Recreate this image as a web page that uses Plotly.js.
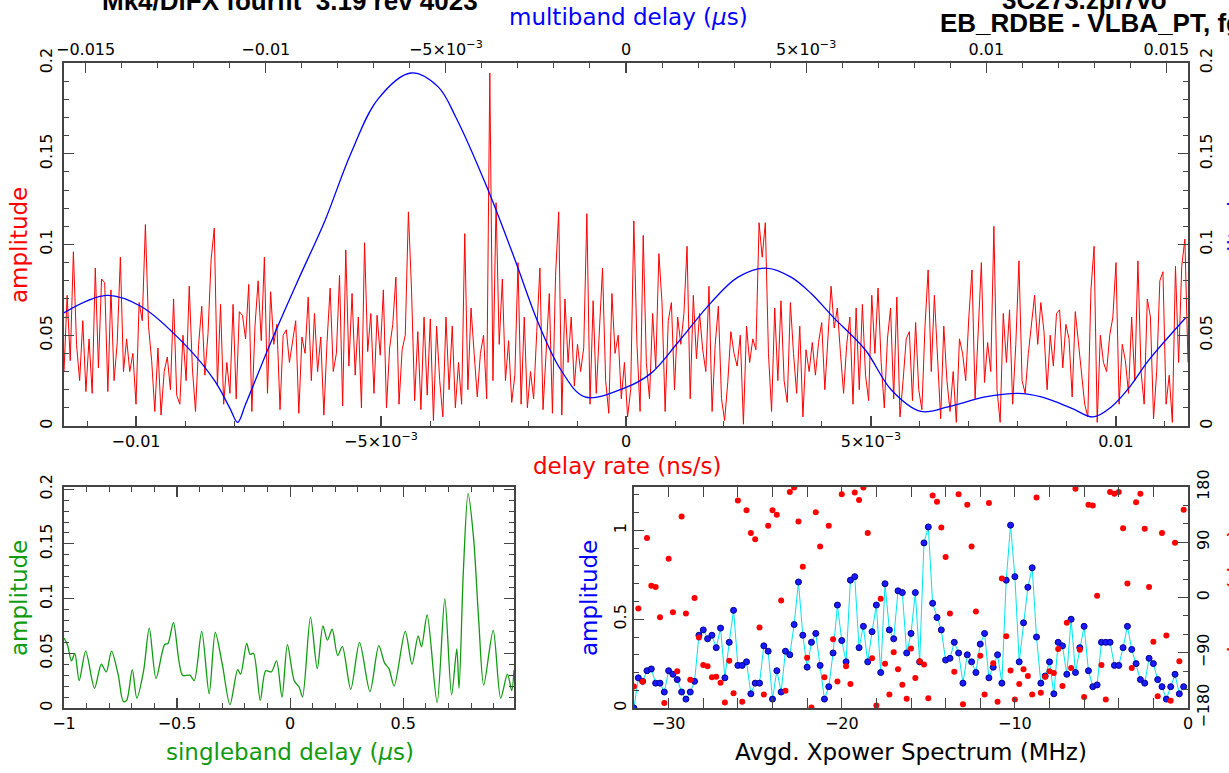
<!DOCTYPE html>
<html><head><meta charset="utf-8">
<script src="https://cdn.plot.ly/plotly-3.0.1.min.js"></script>
<style>html,body{margin:0;padding:0;background:#fff;overflow:hidden}#plot{width:1229px;height:773px}</style>
</head><body><div id="plot"></div>
<script>
// ---- data: delay-rate amplitude (red), evenly spaced in delay rate (ns/s)
const rateStart = -0.01147, rateStep = 0.0000639;
const rateAmp = [
0.030,0.072,0.036,0.096,0.045,0.025,0.058,0.019,0.048,0.018,0.087,0.032,0.081,0.079,0.019,0.075,0.025,0.046,0.093,0.030,
0.048,0.030,0.040,0.012,0.068,0.058,0.111,0.055,0.036,0.008,0.043,0.006,0.030,0.038,0.020,0.070,0.017,0.012,0.050,0.025,
0.077,0.032,0.008,0.045,0.066,0.028,0.051,0.092,0.109,0.022,0.067,0.012,0.035,0.018,0.067,0.015,0.063,0.061,0.048,0.078,
0.008,0.055,0.080,0.047,0.093,0.018,0.074,0.045,0.056,0.009,0.050,0.053,0.035,0.048,0.058,0.007,0.049,0.040,0.071,0.025,
0.062,0.030,0.049,0.006,0.046,0.076,0.030,0.040,0.083,0.011,0.097,0.033,0.073,0.028,0.060,0.010,0.101,0.041,0.062,0.018,
0.061,0.039,0.075,0.010,0.043,0.056,0.082,0.012,0.042,0.050,0.118,0.075,0.014,0.052,0.009,0.060,0.017,0.059,0.003,0.055,
0.025,0.005,0.060,0.020,0.055,0.010,0.035,0.012,0.106,0.020,0.065,0.040,0.016,0.040,0.050,0.015,0.1945,0.025,0.123,0.045,
0.081,0.025,0.047,0.013,0.028,0.090,0.012,0.060,0.010,0.030,0.015,0.052,0.087,0.009,0.044,0.073,0.007,0.083,0.118,0.006,
0.070,0.035,0.060,0.022,0.045,0.030,0.043,0.117,0.012,0.069,0.018,0.050,0.087,0.025,0.007,0.073,0.040,0.050,0.015,0.035,
0.005,0.020,0.113,0.045,0.008,0.105,0.035,0.015,0.062,0.032,0.095,0.068,0.008,0.058,0.068,0.020,0.060,0.045,0.062,0.099,
0.015,0.072,0.037,0.062,0.042,0.030,0.077,0.008,0.045,0.066,0.015,0.003,0.024,0.052,0.040,0.033,0.050,0.001,0.055,0.035,
0.048,0.042,0.112,0.093,0.112,0.040,0.008,0.065,0.025,0.069,0.025,0.013,0.068,0.040,0.018,0.055,0.005,0.042,0.030,0.046,
0.028,0.046,0.057,0.020,0.050,0.077,0.054,0.065,0.040,0.018,0.045,0.060,0.012,0.065,0.020,0.067,0.028,0.014,0.072,0.040,
0.076,0.035,0.010,0.048,0.065,0.015,0.071,0.005,0.025,0.048,0.052,0.014,0.057,0.020,0.009,0.055,0.086,0.030,0.072,0.040,
0.004,0.055,0.025,0.008,0.030,0.002,0.048,0.040,0.025,0.060,0.086,0.015,0.052,0.090,0.024,0.046,0.030,0.110,0.020,0.002,
0.062,0.035,0.064,0.012,0.045,0.091,0.025,0.018,0.040,0.058,0.072,0.045,0.068,0.052,0.020,0.050,0.033,0.062,0.064,0.032,
0.056,0.048,0.016,0.063,0.046,0.028,0.012,0.005,0.075,0.099,0.002,0.050,0.035,0.030,0.050,0.060,0.090,0.012,0.045,0.036,
0.018,0.060,0.025,0.091,0.030,0.012,0.070,0.060,0.004,0.030,0.080,0.085,0.012,0.028,0.002,0.088,0.035,0.088,0.103,0.035
];
// ---- multiband delay amplitude (blue)
const mbdDelay = [-0.01564,-0.01442,-0.01347,-0.01225,-0.01142,-0.01100,-0.01078,-0.01056,-0.00986,-0.00911,-0.00836,-0.00764,-0.00689,-0.00597,-0.00522,-0.00472,-0.00389,-0.00308,-0.00244,-0.00181,-0.00114,-0.00003,0.00069,0.00144,0.00236,0.00311,0.00389,0.00458,0.00514,0.00575,0.00664,0.00736,0.00819,0.00894,0.00997,0.01089,0.01153,0.01236,0.01297,0.01347,0.01400,0.01450,0.01553];
const mbdAmp   = [0.062,0.072,0.066,0.045,0.025,0.010,0.002,0.012,0.046,0.080,0.113,0.150,0.180,0.1945,0.187,0.170,0.133,0.0915,0.057,0.031,0.016,0.021,0.029,0.046,0.068,0.082,0.087,0.082,0.073,0.060,0.042,0.020,0.008,0.0105,0.016,0.018,0.016,0.0099,0.005,0.0105,0.022,0.036,0.0595];
// ---- singleband delay amplitude (green)
const sbdDelay = [-1.0,-0.985,-0.967,-0.952,-0.933,-0.904,-0.865,-0.835,-0.813,-0.790,-0.760,-0.738,-0.723,-0.698,-0.678,-0.648,-0.623,-0.593,-0.555,-0.540,-0.516,-0.476,-0.443,-0.424,-0.391,-0.358,-0.331,-0.300,-0.266,-0.232,-0.219,-0.192,-0.177,-0.162,-0.132,-0.108,-0.083,-0.060,-0.036,-0.012,0.018,0.040,0.055,0.090,0.120,0.145,0.165,0.186,0.210,0.231,0.268,0.307,0.353,0.392,0.418,0.437,0.460,0.509,0.539,0.566,0.581,0.606,0.650,0.684,0.714,0.737,0.747,0.766,0.787,0.811,0.834,0.856,0.898,0.931,0.961,0.980,0.990];
const sbdAmp   = [0.064,0.058,0.043,0.050,0.025,0.052,0.018,0.040,0.033,0.052,0.030,0.006,0.007,0.035,0.009,0.034,0.073,0.027,0.058,0.059,0.078,0.030,0.030,0.025,0.070,0.013,0.069,0.040,0.003,0.035,0.031,0.059,0.049,0.050,0.007,0.034,0.033,0.043,0.010,0.058,0.025,0.019,0.010,0.083,0.036,0.075,0.062,0.072,0.048,0.056,0.017,0.060,0.015,0.057,0.041,0.036,0.020,0.070,0.040,0.066,0.056,0.085,0.005,0.100,0.012,0.054,0.018,0.125,0.196,0.156,0.080,0.021,0.071,0.009,0.031,0.016,0.035];
// ---- averaged cross-power spectrum, 0.25 MHz channels from -32 MHz
const freqStart = -32, freqStep = 0.25;
const specAmp = [
0.00,0.17,0.15,0.21,0.22,0.14,0.14,0.09,0.21,0.19,0.16,0.09,0.05,0.09,0.15,0.41,0.44,0.39,0.41,0.34,
0.45,0.17,0.37,0.55,0.24,0.24,0.26,0.08,0.14,0.14,0.35,0.32,0.05,0.21,0.09,0.32,0.30,0.47,0.71,0.41,
0.23,0.37,0.42,0.24,0.05,0.12,0.31,0.58,0.38,0.26,0.72,0.74,0.34,0.46,0.26,0.43,0.58,0.20,0.70,0.44,
0.39,0.66,0.65,0.31,0.42,0.65,0.26,0.93,1.02,0.59,0.51,0.44,0.27,0.28,0.37,0.31,0.14,0.30,0.26,0.20,
0.36,0.42,0.17,0.23,0.30,0.14,0.72,1.03,0.74,0.26,0.48,0.68,0.79,0.40,0.14,0.18,0.26,0.08,0.37,0.35,
0.19,0.50,0.20,0.34,0.46,0.21,0.12,0.13,0.37,0.37,0.37,0.24,0.24,0.34,0.46,0.33,0.25,0.16,0.14,0.28,
0.25,0.16,0.12,0.05,0.12,0.19,0.08,0.12];
const specPhase = [
-145,-18,-137,97,19,17,-32,-172,63,-24,-120,132,-26,-134,-1,-65,-110,-112,-130,-129,
-139,-171,-103,-156,158,-170,142,105,95,-49,-158,117,142,135,-5,-152,172,179,124,50,
-98,-179,139,83,-130,117,-68,-137,168,-112,-141,171,159,179,105,-99,-176,-2,-108,-158,
-89,-117,-142,-165,-83,-131,-104,-109,-164,166,156,114,66,-26,-121,168,-174,151,83,-23,
-95,-158,154,-107,-170,31,-63,-119,-166,-141,-117,-128,-158,163,-155,-129,-120,-123,-84,-144,
-41,-115,177,-85,-162,151,150,3,-110,-166,172,169,172,113,23,-115,155,169,112,17,
-72,-161,105,-62,-168,89,-104,143];
// ---- tick labels
const rateTickVals = [-0.01,-0.005,0,0.005,0.01];
const rateTickText = ['\u22120.01','\u22125\u00d710<sup>\u22123</sup>','0','5\u00d710<sup>\u22123</sup>','0.01'];
const mbdTickVals = [-0.015,-0.01,-0.005,0,0.005,0.01,0.015];
const mbdTickText = ['\u22120.015','\u22120.01','\u22125\u00d710<sup>\u22123</sup>','0','5\u00d710<sup>\u22123</sup>','0.01','0.015'];
const ampTickVals = [0,0.05,0.1,0.15,0.2];
const ampTickText = ['0','0.05','0.1','0.15','0.2'];
const sbdTickVals = [-1,-0.5,0,0.5];
const sbdTickText = ['\u22121','\u22120.5','0','0.5'];
const freqTickVals = [-30,-20,-10,0];
const freqTickText = ['\u221230','\u221220','\u221210','0'];
const specTickVals = [0,0.5,1];
const specTickText = ['0','0.5','1'];
const phaseTickVals = [-180,-90,0,90,180];
const phaseTickText = ['\u2212180','\u221290','0','90','180'];

// ---- geometry helpers (pixels -> paper)
const W = 1229, H = 773;
const px = v => v / W, py = v => 1 - v / H;
const FONT = 'DejaVu Sans';
const FRAME = '#444';
function minor(d){ return {ticks:'inside', ticklen:5, tickwidth:1, tickcolor:FRAME, dtick:d, tick0:0, showgrid:false}; }
function ax(extra){
  return Object.assign({showgrid:false, zeroline:false, showline:true, linecolor:FRAME, linewidth:2,
    ticks:'inside', ticklen:10, tickwidth:1.2, tickcolor:FRAME, tickmode:'array',
    tickfont:{family:FONT, size:16, color:'#000'}, fixedrange:true}, extra);
}

const traces = [
  {type:'scatter', mode:'lines', x0:rateStart, dx:rateStep, y:rateAmp, xaxis:'x', yaxis:'y',
   line:{color:'#ff0000', width:1}, hoverinfo:'skip'},
  {type:'scatter', mode:'lines', x:mbdDelay, y:mbdAmp, xaxis:'x2', yaxis:'y2',
   line:{color:'#0000ff', width:1.3, shape:'spline', smoothing:1}, hoverinfo:'skip'},
  {type:'scatter', mode:'lines', x:sbdDelay, y:sbdAmp, xaxis:'x3', yaxis:'y3',
   line:{color:'#109a10', width:1.3, shape:'spline', smoothing:0.8}, hoverinfo:'skip'},
  {type:'scatter', mode:'lines+markers', x0:freqStart, dx:freqStep, y:specAmp, xaxis:'x4', yaxis:'y4',
   line:{color:'#00e5ee', width:1}, marker:{color:'#1a1aff', size:6, line:{color:'#00008b', width:1}}, hoverinfo:'skip'},
  {type:'scatter', mode:'markers', x0:freqStart, dx:freqStep, y:specPhase, xaxis:'x4', yaxis:'y5',
   marker:{color:'#ff0000', size:6}, hoverinfo:'skip'}
];

const topDom = [py(426), py(63)], botDom = [py(708), py(487)];
const layout = {
  width:W, height:H, margin:{l:0,r:0,t:0,b:0}, paper_bgcolor:'#fff', plot_bgcolor:'#fff', showlegend:false,
  xaxis: ax({domain:[px(64),px(1188)], anchor:'y', range:[-0.01147,0.01147], tickvals:rateTickVals, ticktext:rateTickText, minor:minor(0.001)}),
  xaxis2: ax({overlaying:'x', side:'top', anchor:'y', range:[-0.0156,0.0156], tickvals:mbdTickVals, ticktext:mbdTickText, minor:minor(0.001)}),
  yaxis: ax({domain:topDom, anchor:'x', range:[0,0.2], tickvals:ampTickVals, ticktext:ampTickText, tickangle:-90, ticklabelstandoff:4, minor:minor(0.01)}),
  yaxis2: ax({overlaying:'y', side:'right', anchor:'x', range:[0,0.2], tickvals:ampTickVals, ticktext:ampTickText, tickangle:-90, ticklabelstandoff:3, minor:minor(0.01)}),
  xaxis3: ax({domain:[px(64),px(514)], anchor:'y3', range:[-1,0.99], tickvals:sbdTickVals, ticktext:sbdTickText, mirror:'allticks', minor:minor(0.1)}),
  yaxis3: ax({domain:botDom, anchor:'x3', range:[0,0.202], tickvals:ampTickVals, ticktext:ampTickText, tickangle:-90, ticklabelstandoff:4, mirror:'allticks', minor:minor(0.01)}),
  xaxis4: ax({domain:[px(634),px(1188)], anchor:'y4', range:[-32,0], tickvals:freqTickVals, ticktext:freqTickText, mirror:'allticks', minor:minor(2)}),
  yaxis4: ax({domain:botDom, anchor:'x4', range:[0,1.245], tickvals:specTickVals, ticktext:specTickText, tickangle:-90, minor:minor(0.1)}),
  yaxis5: ax({overlaying:'y4', side:'right', anchor:'x4', range:[-180,180], tickvals:phaseTickVals, ticktext:phaseTickText, tickangle:-90, minor:minor(30)}),
  annotations: [
    {text:'Mk4/DiFX fourfit  3.19 rev 4023', x:px(480), y:py(1), xanchor:'right', yanchor:'middle', xref:'paper', yref:'paper', showarrow:false, font:{family:'Liberation Sans', size:26, weight:'bold', color:'#000'}},
    {text:'3C273.zpl7vo', x:px(1000), y:py(0), xanchor:'left', yanchor:'middle', xref:'paper', yref:'paper', showarrow:false, font:{family:'Liberation Sans', size:26, weight:'bold', color:'#000'}},
    {text:'EB_RDBE - VLBA_PT, fgroup X, pol LL', x:px(938), y:py(23), xanchor:'left', yanchor:'middle', xref:'paper', yref:'paper', showarrow:false, font:{family:'Liberation Sans', size:26, weight:'bold', color:'#000'}},
    {text:'multiband delay (<i>\u03bc</i>s)', x:px(628), y:py(17), xanchor:'center', yanchor:'middle', xref:'paper', yref:'paper', showarrow:false, font:{family:FONT, size:23, color:'#0000ff'}},
    {text:'delay rate (ns/s)', x:px(627), y:py(466), xanchor:'center', yanchor:'middle', xref:'paper', yref:'paper', showarrow:false, font:{family:FONT, size:23, color:'#ff0000'}},
    {text:'amplitude', x:px(19), y:py(245), textangle:-90, xanchor:'center', yanchor:'middle', xref:'paper', yref:'paper', showarrow:false, font:{family:FONT, size:23, color:'#ff0000'}},
    {text:'amplitude', x:px(1237), y:py(245), textangle:-90, xanchor:'center', yanchor:'middle', xref:'paper', yref:'paper', showarrow:false, font:{family:FONT, size:23, color:'#0000ff'}},
    {text:'amplitude', x:px(19), y:py(598), textangle:-90, xanchor:'center', yanchor:'middle', xref:'paper', yref:'paper', showarrow:false, font:{family:FONT, size:23, color:'#109a10'}},
    {text:'singleband delay (<i>\u03bc</i>s)', x:px(290), y:py(752), xanchor:'center', yanchor:'middle', xref:'paper', yref:'paper', showarrow:false, font:{family:FONT, size:23, color:'#109a10'}},
    {text:'amplitude', x:px(589), y:py(598), textangle:-90, xanchor:'center', yanchor:'middle', xref:'paper', yref:'paper', showarrow:false, font:{family:FONT, size:23, color:'#0000ff'}},
    {text:'Avgd. Xpower Spectrum (MHz)', x:px(911), y:py(752), xanchor:'center', yanchor:'middle', xref:'paper', yref:'paper', showarrow:false, font:{family:FONT, size:23, color:'#000'}},
    {text:'phase (deg)', x:px(1237), y:py(598), textangle:-90, xanchor:'center', yanchor:'middle', xref:'paper', yref:'paper', showarrow:false, font:{family:FONT, size:23, color:'#ff0000'}}
  ]
};
Plotly.newPlot('plot', traces, layout, {staticPlot:true, displayModeBar:false});
</script>
</body></html>
